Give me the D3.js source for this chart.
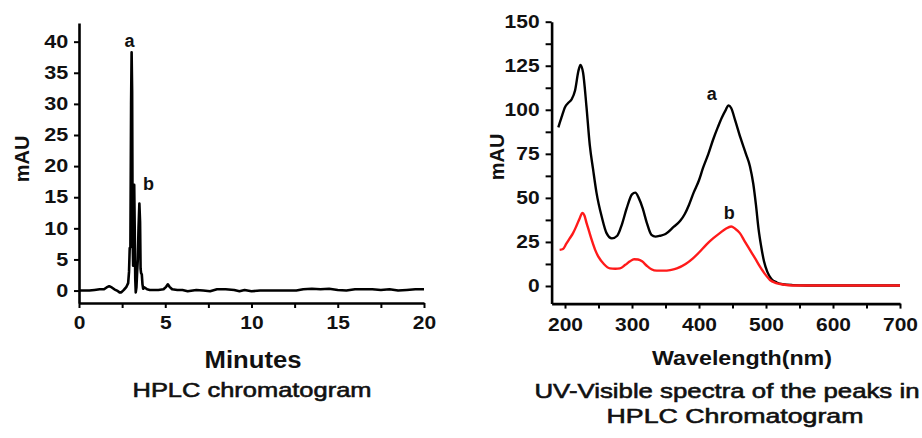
<!DOCTYPE html>
<html>
<head>
<meta charset="utf-8">
<script src="https://cdn.jsdelivr.net/npm/d3@7"></script>
<style>
  html, body { margin: 0; padding: 0; background: #fff; }
  svg { display: block; font-family: "Liberation Sans", Arial, Helvetica, sans-serif; }
</style>
</head>
<body>
<svg id="chart" width="922" height="438"></svg>
<script>
// ---------- Data: HPLC chromatogram ----------
const chromTime = [0, 0.3, 0.6, 0.9, 1.2, 1.45, 1.6, 1.75, 1.9, 2.05, 2.2, 2.35, 2.45, 2.6, 2.75, 2.85, 2.9, 2.94, 2.98, 3.02, 3.05, 3.08, 3.11, 3.14, 3.17, 3.2, 3.23, 3.26, 3.29, 3.33, 3.37, 3.41, 3.45, 3.5, 3.54, 3.57, 3.6, 3.64, 3.68, 3.72, 3.8, 3.95, 4.1, 4.3, 4.6, 4.9, 5.05, 5.15, 5.25, 5.4, 5.7, 6.0, 6.3, 6.8, 7.2, 7.6, 8.0, 8.5, 9.0, 9.3, 9.6, 10.0, 10.5, 11.0, 11.5, 12.0, 12.6, 13.0, 13.5, 14.0, 14.5, 15.0, 15.5, 16.0, 16.5, 17.0, 17.5, 18.0, 18.5, 19.0, 19.5, 20.0];
const chromMAU  = [0, 0, 0, 0.1, 0.2, 0.2, 0.5, 0.7, 0.5, 0.2, 0, -0.3, -0.3, 0.1, 0.6, 1.2, 3, 6.8, 7, 30, 38.3, 32, 8, 4, 12, 17, 10, 2, -0.3, 0.5, 3, 5, 10, 14, 11, 3.5, 2.8, 2.6, 1, 0.3, 0.5, 0.2, 0.1, 0.1, 0.1, 0.2, 0.6, 1, 0.6, 0.2, 0.1, 0.1, -0.1, 0.1, 0, -0.1, 0.2, 0.2, 0.1, -0.1, 0.1, -0.1, 0, 0, 0, 0, 0, 0.2, 0.3, 0.2, 0.3, 0.1, 0, 0.2, 0.2, 0.2, 0.1, 0.2, 0, 0.1, 0.2, 0.2];
const chromXTicks = [0, 2.5, 5, 7.5, 10, 12.5, 15, 17.5, 20];
const chromYTicks = [0, 5, 10, 15, 20, 25, 30, 35, 40];
const chromPeaks = [{label: "a", t: 3.05, v: 38.3}, {label: "b", t: 3.5, v: 14}];

// ---------- Data: UV-Visible spectra ----------
const specWlA = [190, 195, 200, 205, 210, 215, 220, 223, 227, 232, 237, 242, 247, 255, 262, 270, 278, 285, 292, 300, 305, 310, 316, 322, 329, 335, 342, 350, 362, 372, 379, 385, 392, 400, 406, 414, 421, 428, 434, 440, 444, 448, 454, 462, 470, 476, 481, 485, 489, 493, 497, 502, 508, 516, 525, 540, 560, 600, 650, 700];
const specA   = [90, 96, 101.5, 104, 106, 111, 122, 125.5, 121, 102, 80, 66, 53, 39, 30, 27, 28.5, 35, 44, 52, 53, 50, 44, 36, 29, 28, 28.5, 29.5, 33.5, 37, 41, 46, 53, 60, 67, 75, 83, 90, 95.5, 100, 102.5, 101, 94, 84, 75, 68, 58, 46, 32, 22, 14, 8, 4, 2, 1, 0.5, 0.3, 0.3, 0.3, 0.3];
const specWlB = [192, 197, 202, 207, 212, 217, 222, 226, 229, 232, 236, 240, 245, 250, 258, 267, 275, 282, 290, 297, 303, 309, 315, 322, 329, 337, 347, 357, 367, 380, 391, 400, 411, 421, 431, 440, 448, 454, 461, 468, 476, 484, 491, 498, 506, 514, 521, 540, 551, 600, 650, 700];
const specB   = [20.5, 21, 24, 27, 30, 34, 38.5, 41.5, 40, 36, 31, 26, 20.5, 16.5, 12.5, 10, 9.8, 10, 12, 14, 15.2, 15, 14, 11.5, 9.5, 8.7, 8.7, 9, 10, 12.5, 15.7, 19, 23.5, 27, 30, 32.5, 33.8, 32.5, 30, 25.5, 20.5, 15.5, 11, 7, 3.4, 1.8, 1.1, 0.3, 0.3, 0.3, 0.3, 0.3];
const specXTicks = [200, 250, 300, 350, 400, 450, 500, 550, 600, 650, 700];
const specXLabels = [200, 300, 400, 500, 600, 700];
const specYTicks = [0, 12.5, 25, 37.5, 50, 62.5, 75, 87.5, 100, 112.5, 125, 137.5, 150];
const specYLabels = [0, 25, 50, 75, 100, 125, 150];
const specPeaks = [{label: "a", wl: 440, v: 102.5}, {label: "b", wl: 448, v: 33.8}];

const STRETCH = 1.2;  // text in the reference is horizontally widened
const svg = d3.select("#chart");

function styleAxis(g, size) {
  g.select(".domain").attr("stroke", "#000").attr("stroke-width", 2.6);
  g.selectAll(".tick line").attr("stroke", "#000").attr("stroke-width", 2);
  g.selectAll(".tick text")
    .attr("fill", "#111")
    .style("font-size", size + "px")
    .style("font-weight", "bold")
    .attr("transform", `scale(${STRETCH},1)`);
}

function titleText(x, y, txt, size, weight, len, thicken) {
  const g = svg.append("g").attr("transform", `translate(${x},${y})`);
  g.append("text")
    .attr("text-anchor", "middle")
    .attr("textLength", len)
    .attr("lengthAdjust", "spacingAndGlyphs")
    .attr("x", 0).attr("y", 0)
    .style("font-size", size + "px")
    .style("font-weight", weight)
    .attr("fill", "#111")
    .attr("stroke", thicken ? "#111" : "none")
    .attr("stroke-width", thicken || 0)
    .text(txt);
}

// =============== LEFT: HPLC chromatogram ===============
const xL = d3.scaleLinear().domain([0, 20]).range([79, 424]);
const yL = d3.scaleLinear().domain([-2, 43]).range([303, 23]);

const gxL = svg.append("g").attr("transform", `translate(0,${yL(-2)})`)
  .call(d3.axisBottom(xL).tickValues(chromXTicks).tickSize(5).tickSizeOuter(0).tickPadding(9)
    .tickFormat(d => d % 5 === 0 ? d3.format("d")(d) : ""));
styleAxis(gxL, 17.5);

const gyL = svg.append("g").attr("transform", `translate(${xL(0)},0)`)
  .call(d3.axisLeft(yL).tickValues(chromYTicks).tickSize(5).tickSizeOuter(0).tickPadding(4)
    .tickFormat(d3.format("d")));
styleAxis(gyL, 18);

const chromData = chromTime.map((t, i) => [t, chromMAU[i]]);
svg.append("path")
  .datum(chromData)
  .attr("fill", "none")
  .attr("stroke", "#000")
  .attr("stroke-width", 2.6)
  .attr("stroke-linejoin", "round")
  .attr("d", d3.line().x(d => xL(d[0])).y(d => yL(d[1])).curve(d3.curveLinear));

svg.selectAll(".chromPeakLabel").data(chromPeaks).enter().append("text")
  .attr("class", "chromPeakLabel")
  .attr("x", (d, i) => xL(d.t) + (i === 0 ? -2 : 9))
  .attr("y", (d, i) => yL(d.v) + (i === 0 ? -5 : -13))
  .attr("text-anchor", "middle")
  .style("font-size", "18px").style("font-weight", "bold").attr("fill", "#111")
  .text(d => d.label);

svg.append("text")
  .attr("transform", `translate(29,159) rotate(-90)`)
  .attr("text-anchor", "middle")
  .style("font-size", "20px").style("font-weight", "bold").attr("fill", "#111")
  .text("mAU");

titleText(253, 368, "Minutes", 23, "bold", 97);
titleText(252, 397, "HPLC chromatogram", 21, "normal", 239, 0.6);

// =============== RIGHT: UV-Vis spectra ===============
const xR = d3.scaleLinear().domain([180, 700]).range([551.6, 900]);
const yR = d3.scaleLinear().domain([-10, 150]).range([303.6, 21.7]);

const gxR = svg.append("g").attr("transform", `translate(0,${yR(-10)})`)
  .call(d3.axisBottom(xR).tickValues(specXTicks).tickSize(5).tickSizeOuter(0).tickPadding(10)
    .tickFormat(d => specXLabels.includes(d) ? d3.format("d")(d) : ""));
styleAxis(gxR, 17.5);

const gyR = svg.append("g").attr("transform", `translate(${xR(180)},0)`)
  .call(d3.axisLeft(yR).tickValues(specYTicks).tickSize(6).tickSizeOuter(0).tickPadding(4)
    .tickFormat(d => specYLabels.includes(d) ? d3.format("d")(d) : ""));
styleAxis(gyR, 17.5);

const lineR = d3.line().x(d => xR(d[0])).y(d => yR(d[1])).curve(d3.curveMonotoneX);
svg.append("path")
  .datum(specWlA.map((w, i) => [w, specA[i]]))
  .attr("fill", "none").attr("stroke", "#000").attr("stroke-width", 2.4)
  .attr("d", lineR);
svg.append("path")
  .datum(specWlB.map((w, i) => [w, specB[i]]))
  .attr("fill", "none").attr("stroke", "#ff1a1a").attr("stroke-width", 2.4)
  .attr("d", lineR);

svg.selectAll(".specPeakLabel").data(specPeaks).enter().append("text")
  .attr("class", "specPeakLabel")
  .attr("x", d => xR(d.wl) - (d.label === "a" ? 14 : 2))
  .attr("y", d => yR(d.v) - (d.label === "a" ? 5 : 7))
  .attr("text-anchor", "middle")
  .style("font-size", "18px").style("font-weight", "bold").attr("fill", "#111")
  .text(d => d.label);

svg.append("text")
  .attr("transform", `translate(504,157) rotate(-90)`)
  .attr("text-anchor", "middle")
  .style("font-size", "20px").style("font-weight", "bold").attr("fill", "#111")
  .text("mAU");

titleText(742, 365, "Wavelength(nm)", 20, "bold", 180);
titleText(727, 398, "UV-Visible spectra of the peaks in", 21, "normal", 385, 0.6);
titleText(735, 423, "HPLC Chromatogram", 21, "normal", 257, 0.6);
</script>
</body>
</html>
